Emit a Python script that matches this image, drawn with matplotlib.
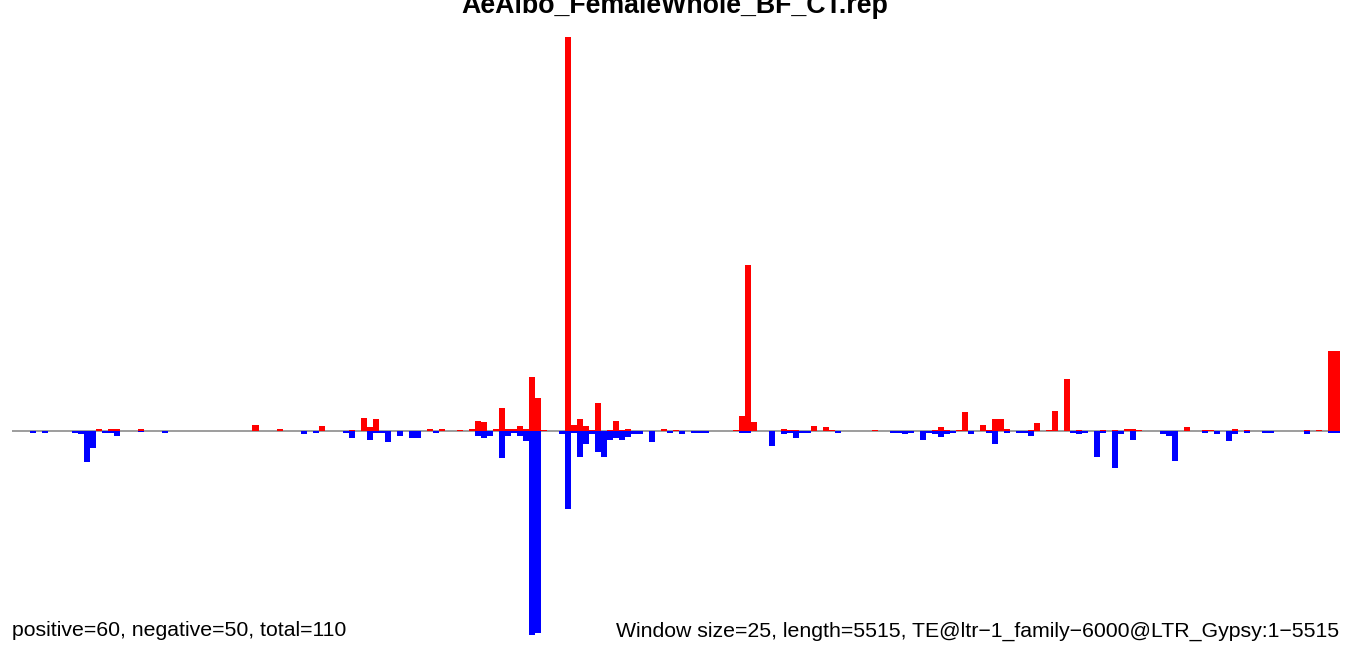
import numpy as np
import matplotlib
matplotlib.use("Agg")
import matplotlib.pyplot as plt

title = "AeAlbo_FemaleWhole_BF_CT.rep"
left_note = "positive=60, negative=50, total=110"
right_note = "Window size=25, length=5515, TE@ltr\u22121_family\u22126000@LTR_Gypsy:1\u22125515"

window = 25
n_bins = 221

# positive (red) windows: bin index and value
pos_bins = [14, 16, 17, 21, 40, 44, 51, 56, 58, 59, 60, 69, 71, 74, 76, 77, 78, 80,
            81, 82, 83, 84, 85, 86, 87, 88, 92, 93, 94, 95, 96, 97, 99, 100, 101, 102,
            108, 110, 120, 121, 122, 123, 128, 129, 130, 133, 135, 136, 143, 153, 154,
            155, 157, 158, 161, 162, 163, 164, 165, 169, 170, 172, 173, 175, 177, 181,
            183, 185, 186, 187, 195, 198, 199, 203, 205, 215, 217, 219, 220]
pos_vals = [2, 2, 2, 2, 6, 2, 5, 1, 13, 4, 12, 2, 2, 1, 2, 10, 9, 2,
            23, 2, 2, 5, 2, 54, 33, 1, 394, 6, 12, 5, 1, 28, 1, 10, 1, 2,
            2, 1, 1, 15, 166, 9, 2, 1, 1, 5, 4, 1, 1, 1, 4,
            1, 1, 19, 6, 1, 12, 12, 2, 1, 8, 1, 20, 52, 1, 1,
            1, 2, 2, 1, 4, 1, 1, 2, 1, 1, 1, 80, 80]

# negative (blue) windows: bin index and value
neg_bins = [3, 5, 10, 11, 12, 13, 15, 16, 17, 21, 25, 48, 50, 55, 56, 59, 60, 61, 62,
            64, 66, 67, 70, 77, 78, 79, 81, 82, 83, 84, 85, 86, 87, 91, 92, 93, 94, 95,
            96, 97, 98, 99, 100, 101, 102, 103, 104, 106, 109, 111, 113, 114, 115, 121,
            122, 126, 128, 129, 130, 131, 132, 137, 146, 147, 148, 149, 151, 152, 153,
            154, 155, 156, 159, 162, 163, 165, 167, 168, 169, 176, 177, 178, 180, 181,
            183, 184, 186, 191, 192, 193, 198, 200, 202, 203, 205, 208, 209, 215, 219, 220]
neg_vals = [2, 2, 2, 3, 31, 17, 2, 2, 5, 1, 2, 3, 2, 2, 7, 9, 2, 2, 11,
            5, 7, 7, 2, 5, 7, 5, 27, 5, 2, 5, 10, 204, 202, 3, 78, 2, 26, 13,
            3, 21, 26, 9, 7, 9, 6, 3, 3, 11, 2, 3, 2, 2, 2, 2,
            2, 15, 3, 2, 7, 2, 2, 2, 2, 2, 3, 2, 9, 2, 3,
            6, 3, 2, 3, 2, 13, 2, 2, 2, 5, 2, 3, 2, 26, 2,
            37, 3, 9, 3, 5, 30, 2, 3, 10, 3, 2, 2, 2, 3, 2, 2]

pos = np.zeros(n_bins)
neg = np.zeros(n_bins)
pos[pos_bins] = pos_vals
neg[neg_bins] = neg_vals
starts = np.arange(n_bins) * window

W, H = 1349, 656
fig = plt.figure(figsize=(W / 100, H / 100), dpi=100)
ax_left, ax_right = 12.1, 1340.3
ax_top, ax_bottom = 37, 635
ax = fig.add_axes([ax_left / W, 1 - ax_bottom / H, (ax_right - ax_left) / W, (ax_bottom - ax_top) / H])

ax.axhline(0, color="#8c8c8c", lw=1.2, zorder=0)
ax.bar(starts, pos, width=window, align="edge", color="#ff0000", linewidth=0, zorder=2)
ax.bar(starts, -neg, width=window, align="edge", color="#0000ff", linewidth=0, zorder=2)

ax.set_xlim(0, n_bins * window)
ax.set_ylim(-max(neg), max(pos))
ax.axis("off")

font = ["Liberation Sans", "DejaVu Sans"]
fig.text(0.5, 1 - 13 / H, title, ha="center", va="baseline", fontsize=19.3,
         fontweight="bold", family=font)
fig.text(12 / W, 1 - 636.5 / H, left_note, ha="left", va="baseline", fontsize=15.3, family=font)
fig.text(1339 / W, 1 - 636.5 / H, right_note, ha="right", va="baseline", fontsize=15.3, family=font)

fig.savefig("out.png", dpi=100)
